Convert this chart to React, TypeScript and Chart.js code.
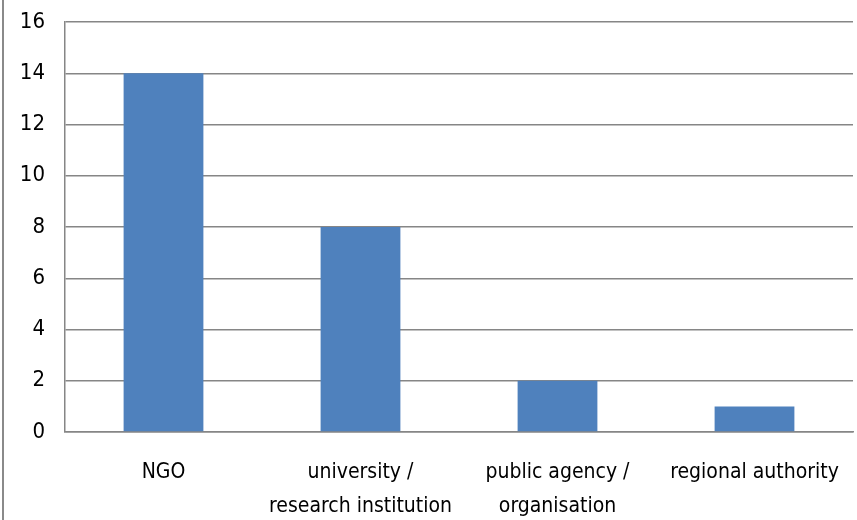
import React, { useEffect, useRef } from "react";
import { Chart, registerables } from "chart.js";

Chart.register(...registerables);

const categories: (string | string[])[] = [
  "NGO",
  ["university /", "research institution"],
  ["public agency /", "organisation"],
  "regional authority",
];
const counts = [14, 8, 2, 1];
const yMin = 0;
const yMax = 16;
const yStep = 2;

const FONT = "'DejaVu Sans Condensed', 'Liberation Sans Narrow', sans-serif";

const frameLine = {
  id: "frameLine",
  beforeDraw(chart: any) {
    const ctx = chart.ctx;
    ctx.save();
    ctx.fillStyle = "#8a8a8a";
    ctx.fillRect(2, 0, 2, chart.height);
    ctx.restore();
  },
};

export default function App() {
  const ref = useRef<HTMLCanvasElement | null>(null);
  useEffect(() => {
    document.body.style.margin = "0";
    if (!ref.current) return;
    const chart = new Chart(ref.current, {
      type: "bar",
      data: {
        labels: categories,
        datasets: [
          {
            data: counts,
            backgroundColor: "#4f81bd",
            borderWidth: 0,
            categoryPercentage: 1,
            barPercentage: 0.405,
          },
        ],
      },
      plugins: [frameLine],
      options: {
        animation: false,
        responsive: true,
        maintainAspectRatio: false,
        layout: { padding: { top: 22, right: 4, bottom: 0, left: 0 } },
        plugins: {
          legend: { display: false },
          tooltip: { enabled: false },
        },
        scales: {
          x: {
            grid: { display: false, drawTicks: false },
            border: { display: true, color: "#868686", width: 1.5 },
            ticks: {
              color: "#000",
              font: { family: FONT, size: 21, lineHeight: 1.6 },
              padding: 24,
              maxRotation: 0,
              autoSkip: false,
            },
            afterFit(scale: any) {
              scale.height = 88;
              scale.paddingLeft = 0;
              scale.paddingRight = 0;
            },
          },
          y: {
            min: yMin,
            max: yMax,
            ticks: {
              stepSize: yStep,
              color: "#000",
              font: { family: FONT, size: 22 },
              padding: 20,
            },
            grid: { color: "#868686", lineWidth: 1.5, drawTicks: false },
            border: { display: true, color: "#868686", width: 1.5 },
            afterFit(scale: any) {
              scale.width = 65;
              scale.paddingTop = 0;
              scale.paddingBottom = 0;
            },
          },
        },
      },
    });
    return () => chart.destroy();
  }, []);
  return (
    <div style={{ width: 857, height: 520, position: "relative" }}>
      <canvas ref={ref} />
    </div>
  );
}
